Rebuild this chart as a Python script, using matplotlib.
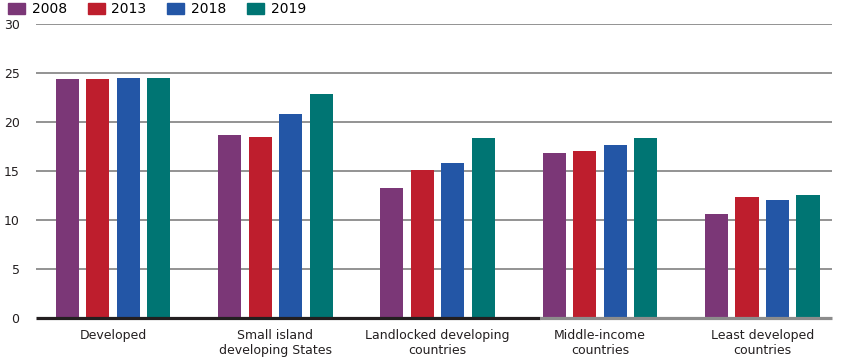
import numpy as np
import matplotlib.pyplot as plt
from matplotlib.patches import Patch

plt.rcParams['font.family'] = ['Liberation Sans Narrow', 'DejaVu Sans']

groups = ['Developed', 'Small island\ndeveloping States', 'Landlocked developing\ncountries',
          'Middle-income\ncountries', 'Least developed\ncountries']
years = ['2008', '2013', '2018', '2019']
v2008 = [24.4, 18.7, 13.3, 16.8, 10.6]
v2013 = [24.4, 18.5, 15.1, 17.0, 12.3]
v2018 = [24.5, 20.8, 15.8, 17.7, 12.0]
v2019 = [24.5, 22.9, 18.4, 18.4, 12.6]
colors = ['#7B3777', '#BE1E2D', '#2356A6', '#007573']

fig = plt.figure(figsize=(8.43, 3.6), dpi=100)
ax = fig.add_axes([0.043, 0.117, 0.944, 0.816])

x = np.arange(len(groups))
pitch = 0.188
width = 0.142
for i, (vals, c) in enumerate(zip([v2008, v2013, v2018, v2019], colors)):
    ax.bar(x + (i - 1.5) * pitch, vals, width, color=c, zorder=3)

ax.set_xlim(-0.473, 4.43)
ax.set_ylim(0, 30)
ax.set_yticks(range(0, 31, 5))
for y in range(5, 31, 5):
    ax.axhline(y, color='#808080', lw=1.2, zorder=1)
# baseline: dark for first part, grey after
ax.hlines(0, -0.473, 2.63, color='#231F20', lw=2.3, zorder=4, clip_on=False)
ax.hlines(0, 2.63, 4.43, color='#8C8C8C', lw=2.3, zorder=4, clip_on=False)

ax.set_xticks(x)
ax.set_xticklabels(groups, fontsize=9, linespacing=1.2)
ax.tick_params(axis='both', length=0, labelsize=9, colors='#231F20')
ax.tick_params(axis='x', pad=8)
ax.tick_params(axis='y', pad=12)
for s in ax.spines.values():
    s.set_visible(False)

handles = [Patch(color=c) for c in colors]
fig.legend(handles, years, loc='upper left', bbox_to_anchor=(-0.005, 1.028), ncol=4,
           frameon=False, fontsize=10, handlelength=1.2, handleheight=0.75,
           columnspacing=1.5, handletextpad=0.5)

fig.savefig('out.png', dpi=100)
